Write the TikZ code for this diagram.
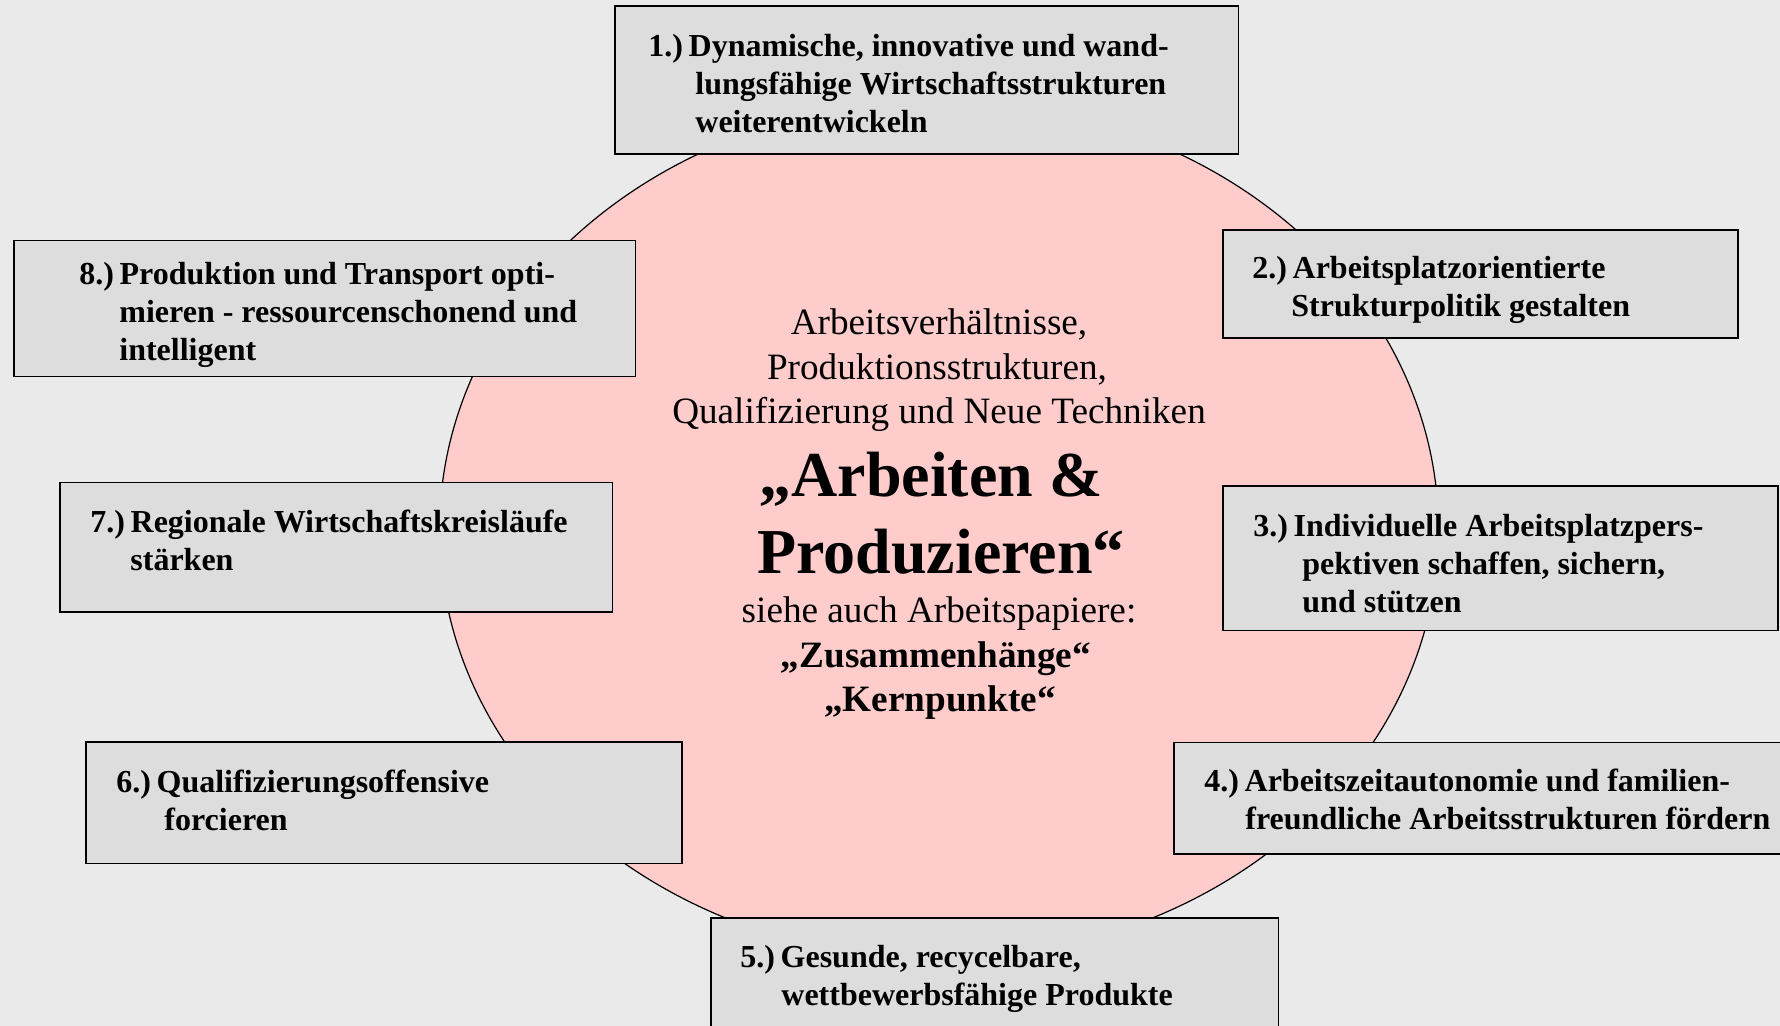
\documentclass[tikz,border=0pt]{standalone}
\usepackage{fontspec}
\setmainfont{Liberation Serif}
\usetikzlibrary{shapes.geometric}
\definecolor{bgc}{HTML}{EAEAEA}
\definecolor{boxc}{HTML}{DDDDDD}
\definecolor{ringc}{HTML}{FFCCCC}
\newcommand{\goalnum}[1]{#1\hspace{2.8pt}}
\begin{document}
\begin{tikzpicture}[x=0.5pt,y=-0.5pt,
  goal/.style={draw=black,line width=0.8pt,fill=boxc,rectangle,inner sep=0pt,outer sep=0pt,anchor=north west},
  goaltext/.style={font=\fontsize{16}{19}\selectfont\bfseries,align=left,anchor=base west,inner sep=0pt},
  midtext/.style={font=\fontsize{18.6}{22}\selectfont,anchor=base,inner sep=0pt},
  midbold/.style={font=\fontsize{18.6}{22}\selectfont\bfseries,anchor=base,inner sep=0pt},
  bigtext/.style={font=\fontsize{32}{38}\selectfont\bfseries,anchor=base,inner sep=0pt}]
\useasboundingbox (0,0) rectangle (1780,1026);
\clip (0,0) rectangle (1780,1026);
\fill[bgc] (0,0) rectangle (1780,1026);
% central ellipse
\node[ellipse,draw=black,line width=0.6pt,fill=ringc,minimum width=499.5pt,minimum height=429pt,inner sep=0pt] (core) at (939,530) {};
% goal boxes
\node[goal,minimum width=311.75pt,minimum height=74pt] (b1) at (615,6) {};
\node[goal,minimum width=257.5pt,minimum height=54pt] (b2) at (1223,230) {};
\node[goal,minimum width=277.5pt,minimum height=72.25pt] (b3) at (1223,486) {};
\node[goal,minimum width=320pt,minimum height=55.75pt] (b4) at (1174,742.5) {};
\node[goal,minimum width=283.75pt,minimum height=70pt] (b5) at (711,918) {};
\node[goal,minimum width=298pt,minimum height=60.75pt] (b6) at (86,742) {};
\node[goal,minimum width=276.25pt,minimum height=64.75pt] (b7) at (60,482.5) {};
\node[goal,minimum width=310.75pt,minimum height=68pt] (b8) at (14,240.5) {};
% goal texts (anchored at the baseline of their last line)
\node[goaltext] (t1) at (648,133) {\goalnum{1.)}Dynamische, innovative und wand-\\\hspace*{23.5pt}lungsfähige Wirtschaftsstrukturen\\\hspace*{23.5pt}weiterentwickeln};
\node[goaltext] (t2) at (1252,316.5) {\goalnum{2.)}Arbeitsplatzorientierte\\\hspace*{19.5pt}Strukturpolitik gestalten};
\node[goaltext] (t3) at (1253,612) {\goalnum{3.)}Individuelle Arbeitsplatzpers-\\\hspace*{24.5pt}pektiven schaffen, sichern,\\\hspace*{24.5pt}und stützen};
\node[goaltext] (t4) at (1204,829.5) {\goalnum{4.)}Arbeitszeitautonomie und familien-\\\hspace*{20.5pt}freundliche Arbeitsstrukturen fördern};
\node[goaltext] (t5) at (740,1005.5) {\goalnum{5.)}Gesunde, recycelbare,\\\hspace*{20.5pt}wettbewerbsfähige Produkte};
\node[goaltext] (t6) at (116,830.5) {\goalnum{6.)}Qualifizierungsoffensive\\\hspace*{24pt}forcieren};
\node[goaltext] (t7) at (90,570.5) {\goalnum{7.)}Regionale Wirtschaftskreisläufe\\\hspace*{20pt}stärken};
\node[goaltext] (t8) at (79,360) {\goalnum{8.)}Produktion und Transport opti-\\\hspace*{20pt}mieren - ressourcenschonend und\\\hspace*{20pt}intelligent};
% central texts
\node[midtext] (c1) at (939,335) {Arbeitsverhältnisse,};
\node[midtext] (c2) at (937,379) {Produktionsstrukturen,};
\node[midtext] (c3) at (939,423) {Qualifizierung und Neue Techniken};
\node[bigtext] (c4) at (931,496) {„Arbeiten \&};
\node[bigtext] (c5) at (941,573) {Produzieren“};
\node[midtext] (c6) at (939,622) {siehe auch Arbeitspapiere:};
\node[midbold] (c7) at (936,667) {„Zusammenhänge“};
\node[midbold] (c8) at (940,711) {„Kernpunkte“};
\end{tikzpicture}
\end{document}
